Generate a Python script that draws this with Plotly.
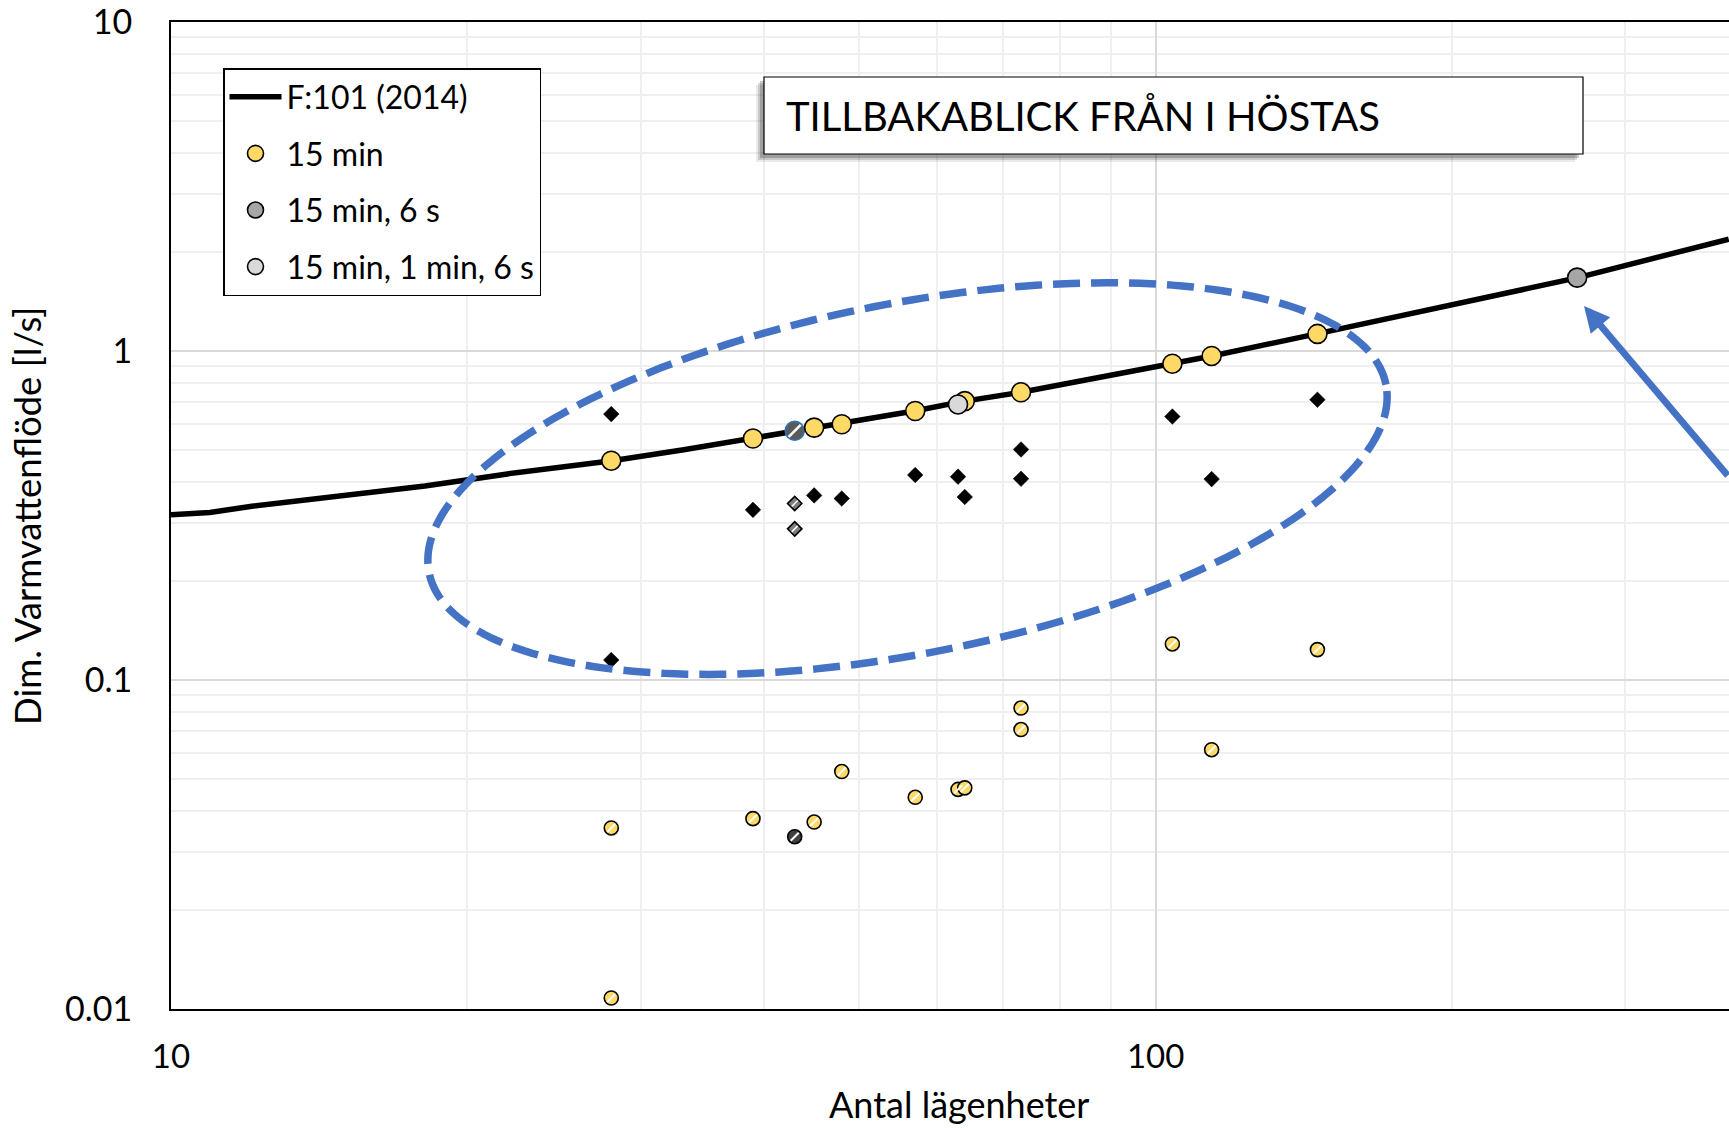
import math
import plotly.graph_objects as go

# ---------------- data ----------------
f101_x = [10, 10.95, 12.13, 14.53, 18.11, 21.96, 28.05, 33.17, 39.02, 47.97, 56.86,
          64.0, 73.0, 103.9, 114.1, 145.7, 191.5, 268.5, 382]
f101_y = [0.318, 0.323, 0.338, 0.360, 0.389, 0.423, 0.464, 0.501, 0.542, 0.603, 0.657,
          0.704, 0.749, 0.915, 0.966, 1.127, 1.346, 1.671, 2.188]

q15_x = [28, 39, 45, 48, 57, 64, 73, 104, 114, 146]
q15_y = [0.464, 0.542, 0.585, 0.599, 0.657, 0.704, 0.749, 0.915, 0.966, 1.127]

q15_6s_x = [268]
q15_6s_y = [1.671]

q15_1m6s_x = [63]
q15_1m6s_y = [0.688]

hatched_big_x = [43]
hatched_big_y = [0.572]

diam_x = [28, 28, 39, 45, 48, 57, 63, 64, 73, 73, 104, 114, 146]
diam_y = [0.643, 0.115, 0.329, 0.364, 0.356, 0.420, 0.415, 0.360, 0.502, 0.409, 0.632, 0.408, 0.711]

diam_hatched_x = [43, 43]
diam_hatched_y = [0.344, 0.288]

low_x = [28, 28, 39, 45, 48, 57, 63, 64, 73, 73, 104, 114, 146]
low_y = [0.0355, 0.0108, 0.0379, 0.0370, 0.0527, 0.0440, 0.0465, 0.0470, 0.0822, 0.0707,
         0.1287, 0.0614, 0.1237]

low_dark_x = [43]
low_dark_y = [0.0334]

x_tick_vals = [10, 100]
x_tick_text = ["10", "100"]
y_tick_vals = [0.01, 0.1, 1, 10]
y_tick_text = ["0.01", "0.1", "1", "10"]

legend_names = ["F:101 (2014)", "15 min", "15 min, 6 s", "15 min, 1 min, 6 s"]
title_text = "TILLBAKABLICK FRÅN I HÖSTAS"
x_title = "Antal lägenheter"
y_title = "Dim. Varmvattenflöde [l/s]"

# ---------------- layout geometry ----------------
W, H = 1729, 1128
ML, MR, MT, MB = 171, 0, 22, 119
PW = W - ML - MR
PH = H - MT - MB
FONT = "Lato"


def px_to_paper(X, Y):
    return (X - ML) / PW, 1 - (Y - MT) / PH


YELLOW = "#FFD966"
BLUE = "#4472C4"
BIG = 19
SMALL = 14

fig = go.Figure()

# F:101 curve
fig.add_trace(go.Scatter(x=f101_x, y=f101_y, mode="lines", name=legend_names[0],
                         legendgroup="g1",
                         line=dict(color="black", width=5.5)))

# small hatched points (low values)
fig.add_trace(go.Scatter(x=low_x, y=low_y, mode="markers", showlegend=False,
                         marker=dict(size=SMALL, color=YELLOW, line=dict(color="black", width=1.6))))
fig.add_trace(go.Scatter(x=low_x, y=low_y, mode="markers", showlegend=False, hoverinfo="skip",
                         marker=dict(size=8, symbol="line-ne", line=dict(color="white", width=2))))
fig.add_trace(go.Scatter(x=low_dark_x, y=low_dark_y, mode="markers", showlegend=False,
                         marker=dict(size=SMALL, color="#404040", line=dict(color="black", width=1.6))))
fig.add_trace(go.Scatter(x=low_dark_x, y=low_dark_y, mode="markers", showlegend=False, hoverinfo="skip",
                         marker=dict(size=8, symbol="line-ne", line=dict(color="white", width=2))))

# diamonds
fig.add_trace(go.Scatter(x=diam_x, y=diam_y, mode="markers", showlegend=False,
                         marker=dict(size=12, symbol="diamond", color="black",
                                     line=dict(color="black", width=0.5))))
fig.add_trace(go.Scatter(x=diam_hatched_x, y=diam_hatched_y, mode="markers", showlegend=False,
                         marker=dict(size=11, symbol="diamond", color="#7F7F7F",
                                     line=dict(color="black", width=1.6))))
fig.add_trace(go.Scatter(x=diam_hatched_x, y=diam_hatched_y, mode="markers", showlegend=False,
                         hoverinfo="skip",
                         marker=dict(size=6, symbol="line-ne", line=dict(color="white", width=1.5))))

# big points on the curve
fig.add_trace(go.Scatter(x=hatched_big_x, y=hatched_big_y, mode="markers", showlegend=False,
                         marker=dict(size=BIG, color="#5A5A5A", line=dict(color="#2E75B6", width=1.6))))
fig.add_trace(go.Scatter(x=hatched_big_x, y=hatched_big_y, mode="markers", showlegend=False,
                         hoverinfo="skip",
                         marker=dict(size=12, symbol="line-ne", line=dict(color="white", width=2.5))))
fig.add_trace(go.Scatter(x=q15_x, y=q15_y, mode="markers", name=legend_names[1], legendgroup="g2",
                         marker=dict(size=BIG, color=YELLOW, line=dict(color="black", width=1.6))))
fig.add_trace(go.Scatter(x=q15_6s_x, y=q15_6s_y, mode="markers", name=legend_names[2], legendgroup="g3",
                         marker=dict(size=BIG, color="#A6A6A6", line=dict(color="black", width=1.6))))
fig.add_trace(go.Scatter(x=q15_1m6s_x, y=q15_1m6s_y, mode="markers", name=legend_names[3],
                         legendgroup="g4",
                         marker=dict(size=BIG, color="#D9D9D9", line=dict(color="black", width=1.6))))

# ---------------- decorations ----------------
shapes = []
# title box with shadow
bx0, by0, bx1, by1 = 764, 77, 1583, 154
for off, alpha in [(8, 0.08), (6, 0.14), (4, 0.2)]:
    u0, v0 = px_to_paper(bx0 - off, by0 + off)
    u1, v1 = px_to_paper(bx1 - off, by1 + off)
    shapes.append(dict(type="rect", xref="paper", yref="paper", x0=u0, y0=v0, x1=u1, y1=v1,
                       fillcolor=f"rgba(0,0,0,{alpha})", line=dict(width=0), layer="above"))
u0, v0 = px_to_paper(bx0, by0)
u1, v1 = px_to_paper(bx1, by1)
shapes.append(dict(type="rect", xref="paper", yref="paper", x0=u0, y0=v0, x1=u1, y1=v1,
                   fillcolor="white", line=dict(color="black", width=1.2), layer="above"))

# dashed ellipse (pixel geometry)
cx, cy, a, b, th = 907.5, 478.6, 487.6, 175.1, math.radians(11.1)
pts = []
n = 240
for i in range(n + 1):
    t = 2 * math.pi * i / n
    X = cx + a * math.cos(th) * math.cos(t) - b * math.sin(th) * math.sin(t)
    Y = cy - (a * math.sin(th) * math.cos(t) + b * math.cos(th) * math.sin(t))
    u, v = px_to_paper(X, Y)
    pts.append(f"{u:.5f},{v:.5f}")
path = "M" + " L".join(pts) + " Z"
shapes.append(dict(type="path", xref="paper", yref="paper", path=path,
                   line=dict(color=BLUE, width=7.5, dash="27px,11px"), layer="above"))

annotations = []
tu, tv = px_to_paper(784, 115.5)
annotations.append(dict(xref="paper", yref="paper", x=tu, y=tv, xanchor="left", yanchor="middle",
                        text=title_text, showarrow=False,
                        font=dict(family=FONT, size=40, color="black")))
xu, xv = px_to_paper(959, 1104)
annotations.append(dict(xref="paper", yref="paper", x=xu, y=xv, xanchor="center", yanchor="middle",
                        text=x_title, showarrow=False,
                        font=dict(family=FONT, size=36, color="black")))
yu, yv = px_to_paper(26.5, (MT + MT + PH) / 2)
annotations.append(dict(xref="paper", yref="paper", x=yu, y=yv, xanchor="center", yanchor="middle",
                        text=y_title, showarrow=False, textangle=-90,
                        font=dict(family=FONT, size=36.5, color="black")))
au, av = px_to_paper(1584, 306)
annotations.append(dict(xref="paper", yref="paper", x=au, y=av, text="", showarrow=True,
                        ax=212, ay=171, arrowhead=2, arrowsize=0.75, arrowwidth=6.8,
                        arrowcolor=BLUE))

fig.update_layout(
    width=W, height=H,
    margin=dict(l=ML, r=MR, t=MT, b=MB, pad=0),
    paper_bgcolor="white", plot_bgcolor="white",
    font=dict(family=FONT, color="black"),
    showlegend=True,
    legend=dict(x=(223 - ML) / PW, y=1 - (68 - MT) / PH, xanchor="left", yanchor="top",
                bgcolor="white", bordercolor="black", borderwidth=1.5,
                font=dict(family=FONT, size=32, color="black"),
                tracegroupgap=12, itemwidth=52, traceorder="grouped"),
    shapes=shapes,
    annotations=annotations,
    xaxis=dict(type="log", range=[1, 1 + PW / 984.6],
               tickmode="array", tickvals=x_tick_vals, ticktext=x_tick_text,
               tickfont=dict(family=FONT, size=33, color="black"),
               ticks="", ticklabelstandoff=17, ticklabeloverflow="allow",
               showgrid=True, gridcolor="#D9D9D9", gridwidth=1.5,
               minor=dict(showgrid=True, gridcolor="#EFEFEF", gridwidth=1.5, dtick="D1"),
               showline=True, linecolor="black", linewidth=2, mirror=True,
               zeroline=False),
    yaxis=dict(type="log", range=[-2, 1],
               tickmode="array", tickvals=y_tick_vals, ticktext=y_tick_text,
               tickfont=dict(family=FONT, size=34, color="black"),
               ticks="", ticklabelstandoff=30, ticklabeloverflow="allow",
               showgrid=True, gridcolor="#D9D9D9", gridwidth=1.5,
               minor=dict(showgrid=True, gridcolor="#EFEFEF", gridwidth=1.5, dtick="D1"),
               showline=True, linecolor="black", linewidth=2, mirror=False,
               zeroline=False),
)

fig.write_html("out.html")
